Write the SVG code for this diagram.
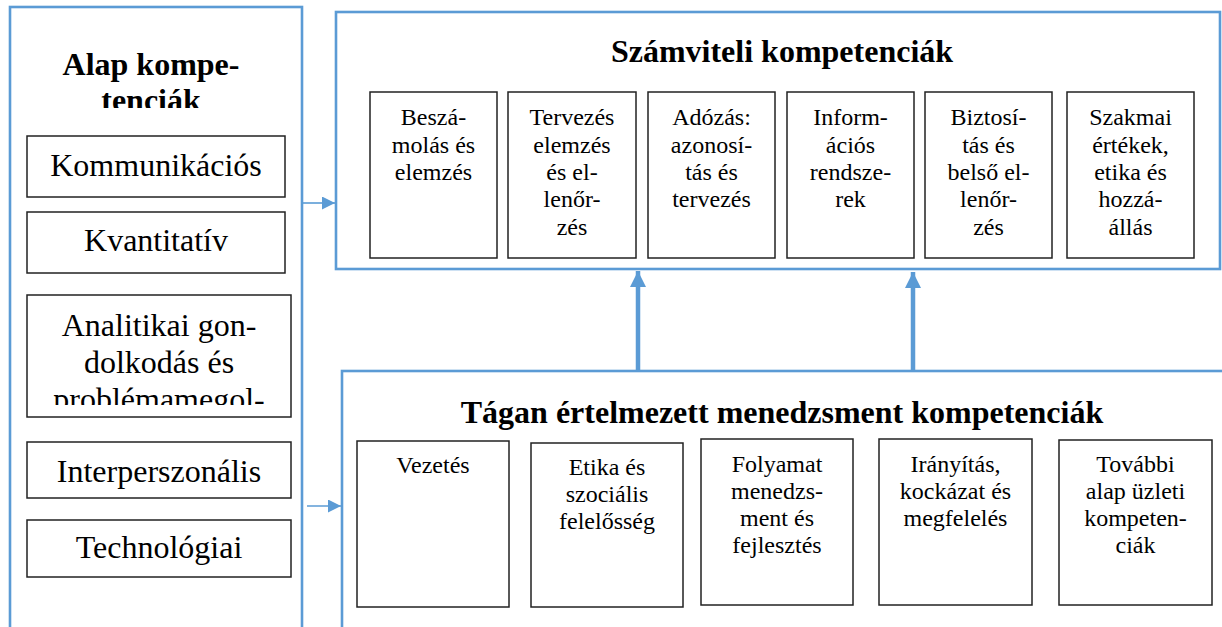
<svg xmlns="http://www.w3.org/2000/svg" width="1222" height="627" viewBox="0 0 1222 627">
<style>
.outer{fill:#fff;stroke:#5b9bd5;stroke-width:2.6}
.inner{fill:#fff;stroke:#222;stroke-width:1.5}
.t{font-family:"Liberation Serif","Times New Roman",serif;fill:#000;text-anchor:middle}
.big{font-size:32px}
.sm{font-size:24px}
.title{font-size:32px;font-weight:bold}
.thin{stroke:#5b9bd5;stroke-width:1.6;fill:none}
.thick{stroke:#5b9bd5;stroke-width:4.5;fill:none}
</style>
<defs>
<marker id="ah" viewBox="0 0 10 10" refX="10" refY="5" markerWidth="13" markerHeight="13" markerUnits="userSpaceOnUse" orient="auto"><path d="M0,0 L10,5 L0,10 z" fill="#5b9bd5"/></marker>
<marker id="ahb" viewBox="0 0 10 10" refX="10" refY="5" markerWidth="16" markerHeight="16" markerUnits="userSpaceOnUse" orient="auto"><path d="M0,0 L10,5 L0,10 z" fill="#5b9bd5"/></marker>
<clipPath id="c1"><rect x="10" y="0" width="292" height="108"/></clipPath>
<clipPath id="c2"><rect x="28" y="296" width="262" height="109"/></clipPath>
</defs>
<rect width="1222" height="627" fill="#fff"/>

<g id="alap">
<rect class="outer" x="10" y="7" width="292" height="640"/>
<g clip-path="url(#c1)"><text class="t title" x="151"><tspan x="151" y="75">Alap kompe-</tspan><tspan x="151" y="111">tenciák</tspan></text></g>
</g>
<g id="kommunikacios"><rect class="inner" x="27" y="136" width="258" height="61"/><text class="t big" x="156" y="176">Kommunikációs</text></g>
<g id="kvantitativ"><rect class="inner" x="27" y="212" width="258" height="61"/><text class="t big" x="156" y="251">Kvantitatív</text></g>
<g id="analitikai"><rect class="inner" x="27" y="295" width="264" height="122"/><g clip-path="url(#c2)"><text class="t big"><tspan x="159" y="336">Analitikai gon-</tspan><tspan x="159" y="373">dolkodás és</tspan><tspan x="159" y="410">problémamegol-</tspan></text></g></g>
<g id="interperszonalis"><rect class="inner" x="27" y="442" width="264" height="56"/><text class="t big" x="159" y="482">Interperszonális</text></g>
<g id="technologiai"><rect class="inner" x="27" y="520" width="264" height="57"/><text class="t big" x="159" y="558">Technológiai</text></g>

<g id="szamviteli">
<rect class="outer" x="336" y="12" width="884" height="257"/>
<text class="t title" x="782" y="62">Számviteli kompetenciák</text>
</g>
<g id="beszamolas"><rect class="inner" x="370" y="92" width="127" height="166"/><text class="t sm"><tspan x="433.5" y="125">Beszá-</tspan><tspan x="433.5" y="153">molás és</tspan><tspan x="433.5" y="180">elemzés</tspan></text></g>
<g id="tervezes"><rect class="inner" x="508" y="92" width="128" height="166"/><text class="t sm"><tspan x="572" y="125">Tervezés</tspan><tspan x="572" y="153">elemzés</tspan><tspan x="572" y="180">és el-</tspan><tspan x="572" y="207">lenőr-</tspan><tspan x="572" y="235">zés</tspan></text></g>
<g id="adozas"><rect class="inner" x="648" y="92" width="127" height="166"/><text class="t sm"><tspan x="711.5" y="125">Adózás:</tspan><tspan x="711.5" y="153">azonosí-</tspan><tspan x="711.5" y="180">tás és</tspan><tspan x="711.5" y="207">tervezés</tspan></text></g>
<g id="informacios"><rect class="inner" x="787" y="92" width="127" height="166"/><text class="t sm"><tspan x="850.5" y="125">Inform-</tspan><tspan x="850.5" y="153">ációs</tspan><tspan x="850.5" y="180">rendsze-</tspan><tspan x="850.5" y="207">rek</tspan></text></g>
<g id="biztositas"><rect class="inner" x="925" y="92" width="127" height="166"/><text class="t sm"><tspan x="988.5" y="125">Biztosí-</tspan><tspan x="988.5" y="153">tás és</tspan><tspan x="988.5" y="180">belső el-</tspan><tspan x="988.5" y="207">lenőr-</tspan><tspan x="988.5" y="235">zés</tspan></text></g>
<g id="szakmai"><rect class="inner" x="1067" y="92" width="127" height="166"/><text class="t sm"><tspan x="1130.5" y="125">Szakmai</tspan><tspan x="1130.5" y="153">értékek,</tspan><tspan x="1130.5" y="180">etika és</tspan><tspan x="1130.5" y="207">hozzá-</tspan><tspan x="1130.5" y="235">állás</tspan></text></g>

<g id="tagan">
<rect class="outer" x="342" y="371" width="900" height="300"/>
<text class="t title" x="782" y="423">Tágan értelmezett menedzsment kompetenciák</text>
</g>
<g id="vezetes"><rect class="inner" x="357" y="441" width="152" height="166"/><text class="t sm" x="433" y="473">Vezetés</text></g>
<g id="etika"><rect class="inner" x="531" y="443" width="152" height="164"/><text class="t sm"><tspan x="607" y="475">Etika és</tspan><tspan x="607" y="502">szociális</tspan><tspan x="607" y="529">felelősség</tspan></text></g>
<g id="folyamat"><rect class="inner" x="701" y="439" width="152" height="166"/><text class="t sm"><tspan x="777" y="472">Folyamat</tspan><tspan x="777" y="499">menedzs-</tspan><tspan x="777" y="526">ment és</tspan><tspan x="777" y="553">fejlesztés</tspan></text></g>
<g id="iranyitas"><rect class="inner" x="879" y="439" width="153" height="166"/><text class="t sm"><tspan x="955.5" y="472">Irányítás,</tspan><tspan x="955.5" y="499">kockázat és</tspan><tspan x="955.5" y="526">megfelelés</tspan></text></g>
<g id="tovabbi"><rect class="inner" x="1059" y="440" width="153" height="165"/><text class="t sm"><tspan x="1135.5" y="472">További</tspan><tspan x="1135.5" y="499">alap üzleti</tspan><tspan x="1135.5" y="526">kompeten-</tspan><tspan x="1135.5" y="553">ciák</tspan></text></g>

<g id="connectors">
<line class="thin" x1="303" y1="203" x2="335" y2="203" marker-end="url(#ah)"/>
<line class="thin" x1="307" y1="506" x2="341" y2="506" marker-end="url(#ah)"/>
<line class="thick" x1="638" y1="370" x2="638" y2="271" marker-end="url(#ahb)"/>
<line class="thick" x1="913" y1="370" x2="913" y2="272" marker-end="url(#ahb)"/>
</g>
</svg>
